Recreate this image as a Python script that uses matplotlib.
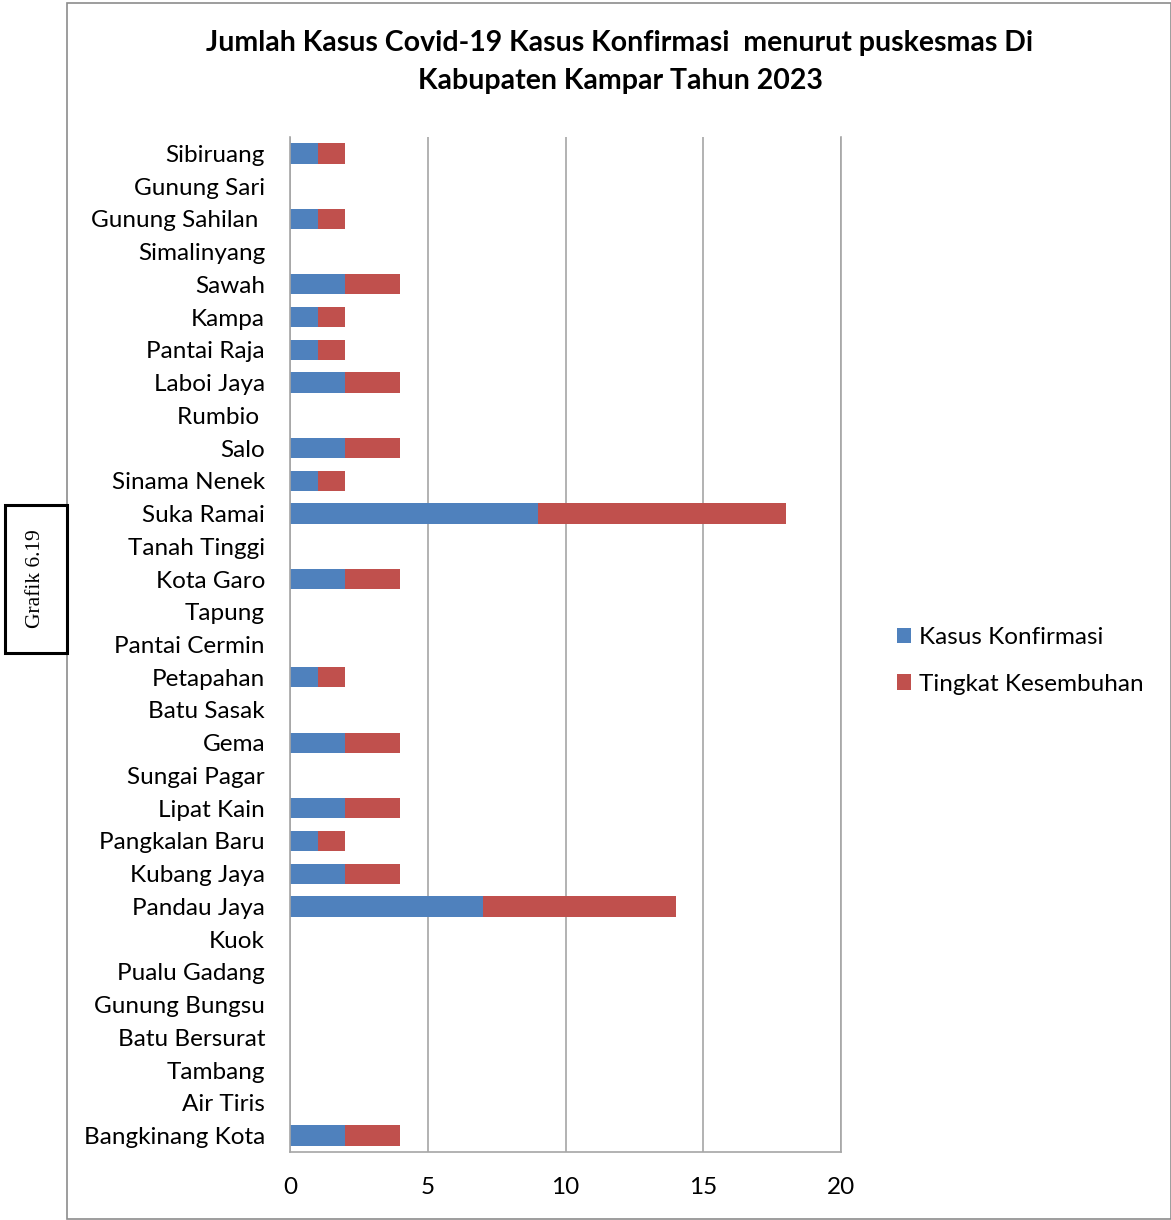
import matplotlib.pyplot as plt
from matplotlib.patches import Rectangle

# data (top to bottom as in the chart)
puskesmas = ["Sibiruang", "Gunung Sari", "Gunung Sahilan ", "Simalinyang", "Sawah",
             "Kampa", "Pantai Raja", "Laboi Jaya", "Rumbio ", "Salo", "Sinama Nenek",
             "Suka Ramai", "Tanah Tinggi", "Kota Garo", "Tapung", "Pantai Cermin",
             "Petapahan", "Batu Sasak", "Gema", "Sungai Pagar", "Lipat Kain",
             "Pangkalan Baru", "Kubang Jaya", "Pandau Jaya", "Kuok", "Pualu Gadang",
             "Gunung Bungsu", "Batu Bersurat", "Tambang", "Air Tiris", "Bangkinang Kota"]
kasus_konfirmasi = [1, 0, 1, 0, 2, 1, 1, 2, 0, 2, 1, 9, 0, 2, 0, 0, 1, 0, 2, 0, 2, 1, 2, 7, 0, 0, 0, 0, 0, 0, 2]
tingkat_sembuh = [1, 0, 1, 0, 2, 1, 1, 2, 0, 2, 1, 9, 0, 2, 0, 0, 1, 0, 2, 0, 2, 1, 2, 7, 0, 0, 0, 0, 0, 0, 2]
x_ticks = [0, 5, 10, 15, 20]

plt.rcParams['font.family'] = ['Lato', 'DejaVu Sans']

W, H = 1171, 1220
fig = plt.figure(figsize=(W / 100, H / 100), dpi=100)
ax = fig.add_axes([290 / W, 68 / H, 551 / W, 1015 / H])

pos = list(range(len(puskesmas)))
ax.barh(pos, kasus_konfirmasi, height=0.62, color="#4F81BD", label="Kasus Konfirmasi")
ax.barh(pos, tingkat_sembuh, left=kasus_konfirmasi, height=0.62, color="#C0504D",
        label="Tingkat Kesembuhan")

ax.set_ylim(len(puskesmas) - 0.5, -0.5)
ax.set_yticks(pos)
ax.set_yticklabels(puskesmas, fontsize=17.5)
ax.set_xlim(0, 20)
ax.set_xticks(x_ticks)
ax.set_xticklabels([str(t) for t in x_ticks], fontsize=17.5)
ax.tick_params(axis='y', length=0, pad=18)
ax.tick_params(axis='x', length=0, pad=18)

ax.xaxis.grid(True, color="#A6A6A6", linewidth=1.2)
ax.set_axisbelow(True)
ax.spines["top"].set_visible(False)
for s in ["left", "bottom", "right"]:
    ax.spines[s].set_color("#A6A6A6")
    ax.spines[s].set_linewidth(1.2)

fig.text(620 / W, 1 - 62 / H,
         "Jumlah Kasus Covid-19 Kasus Konfirmasi  menurut puskesmas Di\nKabupaten Kampar Tahun 2023",
         ha="center", va="center", fontsize=20.5, fontweight="bold", linespacing=1.55)

fig.legend(loc="center left", bbox_to_anchor=(875 / W, 1 - 661 / H), frameon=False,
           fontsize=17.5, handlelength=0.6, handleheight=0.6, handletextpad=0.3,
           labelspacing=1.05)

# outer chart frame
fig.patches.append(Rectangle((67 / W, 1 / H), (W - 67) / W, 1 - 4 / H,
                             transform=fig.transFigure, fill=False,
                             edgecolor="#8C8C8C", linewidth=1.2))
# Grafik label box
fig.patches.append(Rectangle((5 / W, 1 - 653 / H), 62 / W, 148 / H,
                             transform=fig.transFigure, fill=False,
                             edgecolor="black", linewidth=2.2))
fig.text(36 / W, 1 - 579 / H, "Grafik 6.19", rotation=90, ha="center", va="center",
         fontsize=15.5, family=["Liberation Serif", "DejaVu Serif"])

plt.savefig("out.png", dpi=100)
